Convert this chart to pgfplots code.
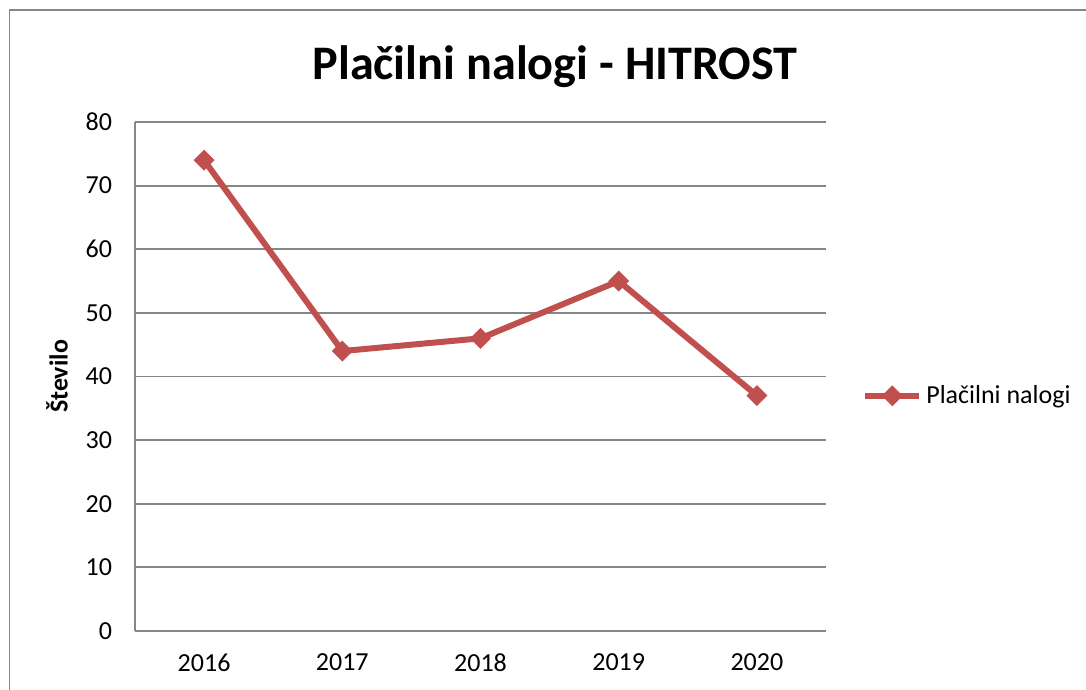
\documentclass[border=0pt]{standalone}
\usepackage{fontspec}
\setmainfont{Carlito}
\usepackage{pgfplots}
\pgfplotsset{compat=1.18}
\usepackage{xcolor}
\definecolor{xlred}{RGB}{192,80,77}
\definecolor{xlgray}{RGB}{134,134,134}

\begin{document}
\begin{tikzpicture}
\path[use as bounding box] (0pt,0pt) rectangle (543pt,345pt);
% chart frame (open at right and bottom, as in the screenshot)
\draw[xlgray, line width=0.9pt] (4.75pt,0pt) -- (4.75pt,340pt) -- (543pt,340pt);

\node[anchor=base, font=\bfseries\fontsize{24.1}{28}\selectfont] at (277.5pt,305pt) {Plačilni nalogi - HITROST};
\node[rotate=90, anchor=center, font=\bfseries\fontsize{13}{15}\selectfont] at (28.5pt,156.75pt) {Število};

\begin{axis}[
  at={(67.5pt,29.5pt)}, anchor=south west,
  scale only axis,
  width=345.5pt, height=254.5pt,
  xmin=-0.5, xmax=4.5,
  ymin=0, ymax=80,
  xtick={0,1,2,3,4},
  xticklabels={2016,2017,2018,2019,2020},
  ytick={0,10,...,80},
  major tick length=0pt,
  axis x line*=bottom,
  axis y line*=left,
  axis line style={xlgray, line width=1pt},
  ymajorgrids=true,
  grid style={xlgray, line width=0.9pt},
  tick label style={font=\fontsize{13}{15}\selectfont},
  /pgf/number format/assume math mode=true,
  yticklabel style={xshift=-8pt},
  xticklabel style={yshift=-8pt},
  clip=false,
  legend style={at={(1.052,0.462)}, anchor=west, draw=none, fill=none,
    font=\fontsize{13}{15}\selectfont, inner sep=0pt},
  legend image code/.code={
    \draw[#1, mark=none] (0pt,0pt) -- (27pt,0pt);
    \draw[#1, only marks] plot coordinates {(13.5pt,0pt)};
  },
]
\addplot[xlred, line width=3pt, mark=square*, mark size=3.5pt,
  mark options={rotate=45, solid, line width=0.4pt, fill=xlred}]
  coordinates {(0,74) (1,44) (2,46) (3,55) (4,37)};
\addlegendentry{Plačilni nalogi}
\end{axis}
\end{tikzpicture}
\end{document}
